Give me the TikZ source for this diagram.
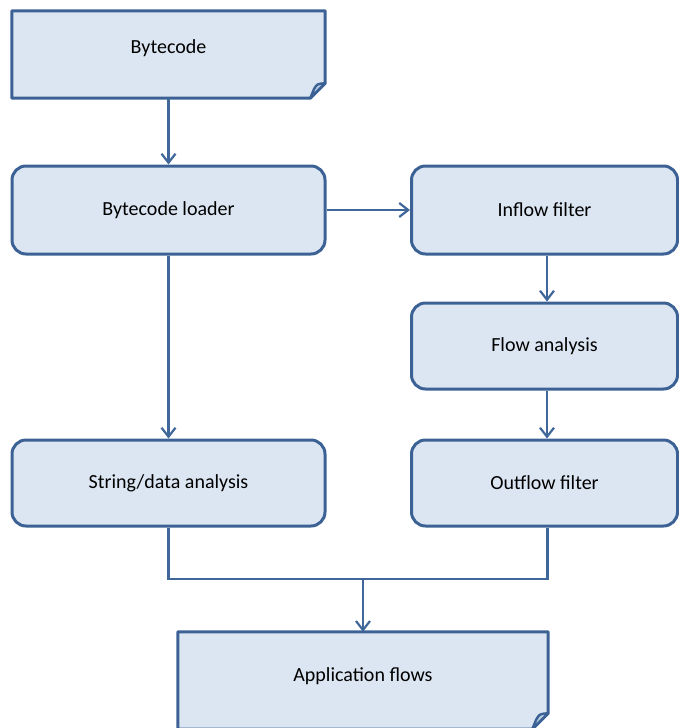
\documentclass[tikz,border=0pt]{standalone}
\usepackage{fontspec}
\setmainfont{Carlito}
\usetikzlibrary{calc,arrows.meta}

\definecolor{boxfill}{HTML}{DCE6F2}
\definecolor{boxline}{HTML}{3C6295}
\definecolor{flapfill}{HTML}{B9CCE4}
\definecolor{wire}{HTML}{40679A}

\tikzset{
  x=1pt, y=-1pt,
  every node/.style={font=\fontsize{20}{22}\selectfont, text=black},
  procbox/.style={rectangle, rounded corners=14pt, draw=boxline, fill=boxfill,
    line width=3pt, inner sep=0pt},
  docframe/.style={rectangle, draw=none, inner sep=0pt},
  docline/.style={draw=boxline, fill=boxfill, line width=3pt, line join=round},
  flap/.style={draw=boxline, fill=flapfill, line width=2.4pt, line join=round},
  link/.style={draw=wire, line width=2.2pt,
    -{Straight Barb[length=9pt,width=14pt,line width=2.2pt]}},
  plain/.style={draw=wire, line width=2.2pt}
}

% document shape with a folded lower right corner, drawn round a frame node
\newcommand{\docshape}[2]{%
  \path[docline] (#1.north west) -- (#1.north east)
    -- ($(#1.south east)+(0,-#2)$) -- ($(#1.south east)+(-#2,0)$)
    -- (#1.south west) -- cycle;
  \path[flap] ($(#1.south east)+(0,-#2)$)
    .. controls ($(#1.south east)+(-0.55*#2,-0.95*#2)$) .. ($(#1.south east)+(-0.75*#2,-0.6*#2)$)
    -- ($(#1.south east)+(-#2,0)$) -- cycle;
}

\begin{document}
\begin{tikzpicture}
\useasboundingbox (0,0) rectangle (679,728);

% document shapes
\node[docframe, minimum width=313pt, minimum height=87pt] (bc) at (168.5,54.5) {};
\docshape{bc}{15}
\node (bctext) at (168.5,48) {Bytecode};

\node[docframe, minimum width=370pt, minimum height=97pt] (app) at (363,680.5) {};
\docshape{app}{16}
\node (apptext) at (363,676) {Application flows};

% processing steps
\node[procbox, minimum width=313pt, minimum height=88pt] (load) at (168.5,210) {Bytecode loader};
\node[procbox, minimum width=266pt, minimum height=88pt] (inflow) at (544.5,210) {Inflow filter};
\node[procbox, minimum width=266pt, minimum height=86pt] (flow) at (544.5,346) {Flow analysis};
\node[procbox, minimum width=313pt, minimum height=86pt] (str) at (168.5,483) {String/data analysis};
\node[procbox, minimum width=266pt, minimum height=86pt] (outf) at (544.5,483) {Outflow filter};

% connectors
\draw[link] (bc.south) -- (load.north);
\draw[link] (load.east) -- (inflow.west);
\draw[link] (load.south) -- (str.north);
\draw[link] ([xshift=2.5pt]inflow.south) -- ([xshift=2.5pt]flow.north);
\draw[link] ([xshift=2.5pt]flow.south) -- ([xshift=2.5pt]outf.north);

\coordinate (bus) at (363,579);
\draw[plain] (str.south) |- (bus) -| ([xshift=3pt]outf.south);
\draw[link] (bus) -- (app.north);
\end{tikzpicture}
\end{document}
